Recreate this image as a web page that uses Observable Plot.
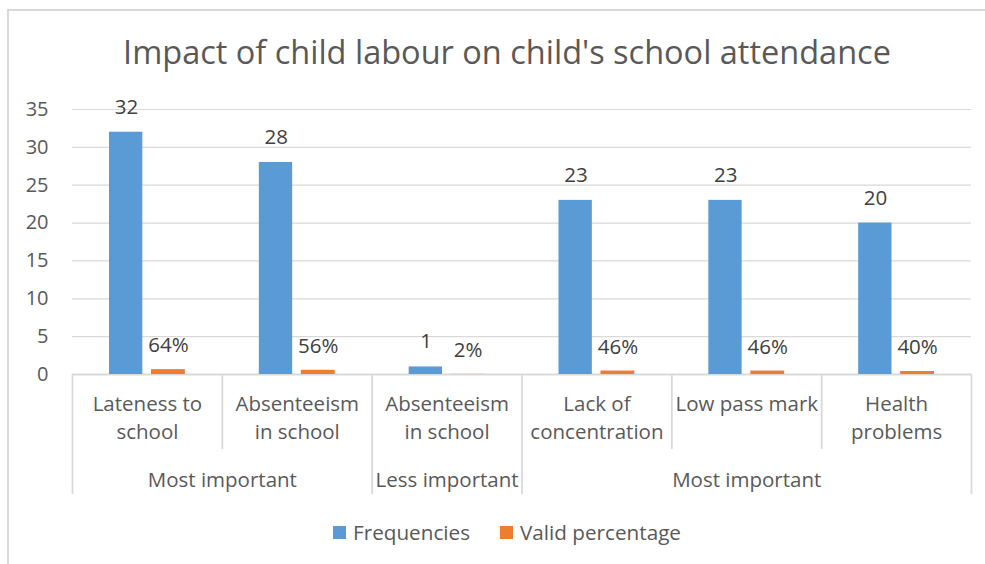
<!DOCTYPE html>
<html>
<head>
<meta charset="utf-8">
<script src="https://cdn.jsdelivr.net/npm/d3@7"></script>
<script src="https://cdn.jsdelivr.net/npm/@observablehq/plot@0.6"></script>
<style>
  html, body { margin: 0; padding: 0; background: #fff; }
  #wrap { position: relative; width: 985px; height: 564px; overflow: hidden; font-family: "Open Sans", sans-serif; color: #595959; }
  #border { position: absolute; left: 7px; top: 9px; width: 1200px; height: 800px; border-left: 2px solid #d9d9d9; border-top: 2px solid #d9d9d9; }
  #title { position: absolute; left: 8px; width: 998px; top: 29px; text-align: center; font-size: 32.5px; line-height: 46px; white-space: nowrap; }
  #chart { position: absolute; left: 0; top: 90px; }
  #legend { position: absolute; left: 8px; width: 998px; top: 518px; display: flex; justify-content: center; align-items: center; font-size: 20.7px; line-height: 28px; }
  .item { display: flex; align-items: center; margin: 0 15px; }
  .sw { width: 13px; height: 13px; margin-right: 7px; }
</style>
</head>
<body>
<div id="wrap">
  <div id="border"></div>
  <div id="title">Impact of child labour on child's school attendance</div>
  <div id="chart"></div>
  <div id="legend"></div>
</div>
<script>
const categories = ["Lateness to\nschool", "Absenteeism\nin school", "Absenteeism\nin school", "Lack of\nconcentration", "Low pass mark", "Health\nproblems"];
const frequencies = [32, 28, 1, 23, 23, 20];
const validPercentage = [0.64, 0.56, 0.02, 0.46, 0.46, 0.40];
const groups = ["Most important", "Less important", "Most important"];
const groupSizes = [2, 1, 3];
const yTicks = [0, 5, 10, 15, 20, 25, 30, 35];
const seriesNames = ["Frequencies", "Valid percentage"];
const seriesColors = ["#5B9BD5", "#ED7D31"];

const rows = categories.map((c, i) => ({
  cat: c, start: i, end: i + 1, mid: i + 0.5,
  freq: frequencies[i], pct: validPercentage[i]
}));

let acc = 0;
const groupRows = groups.map((g, k) => {
  const s = acc; acc += groupSizes[k];
  return {group: g, start: s, end: acc, mid: (s + acc) / 2};
});
const longBounds = [0, ...groupRows.map(g => g.end)];
const shortBounds = d3.range(1, categories.length).filter(b => !longBounds.includes(b));

const textColor = "#595959";
const labelColor = "#404040";
const gridColor = "#d9d9d9";
const fs = 20.5;

const plot = Plot.plot({
  width: 985,
  height: 420,
  marginLeft: 72,
  marginRight: 14,
  marginTop: 19,
  marginBottom: 136,
  style: {fontFamily: "'Open Sans', sans-serif", fontSize: fs + "px", color: textColor, background: "transparent"},
  x: {type: "linear", domain: [0, categories.length], axis: null},
  y: {domain: [0, 35], axis: null},
  marks: [
    Plot.ruleY(yTicks.filter(t => t > 0), {stroke: gridColor, strokeWidth: 1.2}),
    Plot.ruleY([0], {stroke: gridColor, strokeWidth: 1.8}),
    Plot.axisY(yTicks, {tickSize: 0, tickPadding: 24, fontSize: 20, fill: textColor, label: null}),
    Plot.rectY(rows, {x1: "start", x2: "end", y: "freq", fill: seriesColors[0], insetLeft: 37, insetRight: 79.5}),
    Plot.rectY(rows, {x1: "start", x2: "end", y: "pct", fill: seriesColors[1], insetLeft: 79, insetRight: 37}),
    Plot.text(rows, {x: "mid", y: "freq", text: d => String(d.freq), dx: -21, dy: -25, fontSize: fs, fill: labelColor}),
    Plot.text(rows, {x: "mid", y: "pct", text: d => Math.round(d.pct * 100) + "%", dx: 21, dy: -24, fontSize: fs, fill: labelColor}),
    Plot.ruleX(shortBounds, {x: d => d, y1: 0, y2: 0, insetBottom: -75, stroke: gridColor, strokeWidth: 1.8}),
    Plot.ruleX(longBounds, {x: d => d, y1: 0, y2: 0, insetBottom: -120, stroke: gridColor, strokeWidth: 1.8}),
    Plot.text(rows, {x: "mid", y: 0, text: "cat", lineAnchor: "top", dy: 17, lineHeight: 28 / fs, fontSize: fs, fill: textColor}),
    Plot.text(groupRows, {x: "mid", y: 0, text: "group", lineAnchor: "middle", dy: 106, fontSize: fs, fill: textColor})
  ]
});
document.getElementById("chart").appendChild(plot);

const legend = document.getElementById("legend");
seriesNames.forEach((n, k) => {
  const it = document.createElement("div");
  it.className = "item";
  const sw = document.createElement("div");
  sw.className = "sw";
  sw.style.background = seriesColors[k];
  const t = document.createElement("span");
  t.textContent = n;
  it.appendChild(sw); it.appendChild(t);
  legend.appendChild(it);
});
</script>
</body>
</html>
